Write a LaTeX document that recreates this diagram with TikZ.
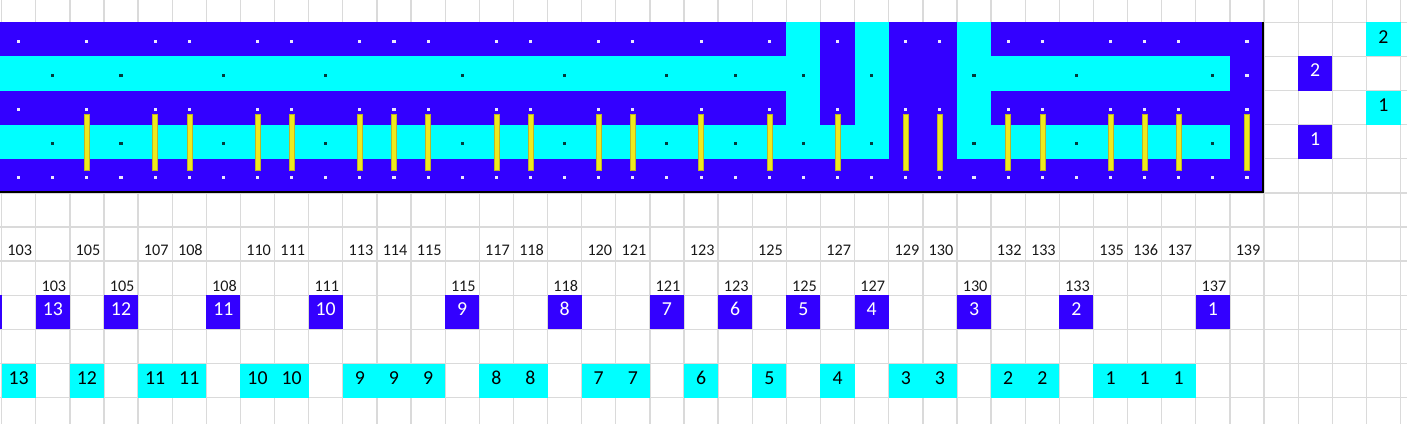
\documentclass[tikz,border=0pt]{standalone}
\usepackage{fontspec}
\setmainfont{Carlito}
\definecolor{xblue}{RGB}{51,0,255}
\definecolor{xcyan}{RGB}{0,255,255}
\definecolor{xyellow}{RGB}{238,234,28}
\definecolor{xyedge}{RGB}{190,180,40}
\definecolor{xgrid}{RGB}{218,218,218}
\definecolor{ldot}{RGB}{235,230,255}
\definecolor{ddot}{RGB}{0,60,60}
\tikzset{
  gridline/.style={xgrid,line width=1.1pt},
  lab/.style={font=\fontsize{13.5}{15}\selectfont,text=black!90,inner sep=0pt,anchor=base east},
  bnum/.style={font=\fontsize{16.5}{18}\selectfont,text=white,inner sep=0pt,anchor=base},
  cnum/.style={font=\fontsize{16.5}{18}\selectfont,text=black,inner sep=0pt,anchor=base},
  ldotst/.style={fill=ldot},
  ddotst/.style={fill=ddot},
  bar/.style={fill=xyellow,draw=xyedge,line width=0.3pt},
}
\def\Sset{0,2,4,5,7,8,10,11,12,14,15,17,18,20,22,24,26,27,29,30,32,33,34,36}
\def\Bars{2,4,5,7,8,10,11,12,14,15,17,18,20,22,24,26,27,29,30,32,33,34,36}
\def\Cset{1,3,6,9,13,16,19,21,23,25,28,31,35}
\begin{document}
\begin{tikzpicture}[x=1cm,y=-1cm]
\def\xo{0.047}
\def\yo{0.654}
\useasboundingbox (0,0) rectangle (41.237,12.427);
% grid
\foreach \i in {0,...,41} \draw[gridline] (\xo+\i,0) -- (\xo+\i,12.427);
\foreach \j in {0,...,11} \draw[gridline] (0,\yo+\j) -- (41.237,\yo+\j);
% main blue block
\fill[xblue] (0,\yo) rectangle (\xo+37,\yo+5);
% cyan comb
\fill[xcyan] (0,\yo+1) rectangle (\xo+24,\yo+2);
\fill[xcyan] (\xo+23,\yo) rectangle (\xo+24,\yo+4);
\fill[xcyan] (\xo+25,\yo) rectangle (\xo+26,\yo+4);
\fill[xcyan] (0,\yo+3) rectangle (\xo+26,\yo+4);
\fill[xcyan] (\xo+28,\yo) rectangle (\xo+29,\yo+4);
\fill[xcyan] (\xo+28,\yo+1) rectangle (\xo+36,\yo+2);
\fill[xcyan] (\xo+28,\yo+3) rectangle (\xo+36,\yo+4);
% dots
\foreach \c in \Sset {
  \fill[ldotst] (\xo+\c+0.455,\yo+0.515) rectangle +(0.09,0.09);
  \fill[ldotst] (\xo+\c+0.455,\yo+2.515) rectangle +(0.09,0.09);
}
\foreach \c in \Cset {
  \fill[ddotst] (\xo+\c+0.455,\yo+1.515) rectangle +(0.09,0.09);
  \fill[ddotst] (\xo+\c+0.455,\yo+3.515) rectangle +(0.09,0.09);
}
\fill[ldotst] (\xo+36.455,\yo+1.515) rectangle +(0.09,0.09);
\foreach \c in {0,...,36}
  \fill[ldotst] (\xo+\c+0.455,\yo+4.515) rectangle +(0.09,0.09);
% yellow bars
\foreach \c in \Bars
  \filldraw[bar] (\xo+\c+0.427,3.341) rectangle (\xo+\c+0.573,4.982);
% black border (bottom and right)
\draw[black,line width=2.2pt] (0,\yo+4.97) -- (\xo+36.97,\yo+4.97) -- (\xo+36.97,\yo);
% label row 6
\foreach \c in \Sset {
  \pgfmathtruncatemacro\v{103+\c}
  \node[lab] (ta\c) at (\xo+\c+0.9,\yo+6.82) {\v};
}
% label row 7 and blue boxes
\foreach \c [count=\k] in \Cset {
  \pgfmathtruncatemacro\v{102+\c}
  \pgfmathtruncatemacro\n{14-\k}
  \node[lab] (tb\c) at (\xo+\c+0.9,\yo+7.88) {\v};
  \fill[xblue] (\xo+\c,\yo+8) rectangle +(1,1);
  \node[bnum] (bb\c) at (\xo+\c+0.5,\yo+8.6) {\n};
}
\fill[xblue] (0,\yo+8) rectangle (\xo,\yo+9);
% cyan boxes row 10
\foreach \c/\n in {0/13,2/12,4/11,5/11,7/10,8/10,10/9,11/9,12/9,14/8,15/8,17/7,18/7,20/6,22/5,24/4,26/3,27/3,29/2,30/2,32/1,33/1,34/1} {
  \fill[xcyan] (\xo+\c,\yo+10) rectangle +(1,1);
  \node[cnum] (cb\c) at (\xo+\c+0.5,\yo+10.62) {\n};
}
% right-hand legend
\fill[xblue] (\xo+38,\yo+1) rectangle +(1,1);
\node[bnum] (lb2) at (\xo+38.5,\yo+1.6) {2};
\fill[xblue] (\xo+38,\yo+3) rectangle +(1,1);
\node[bnum] (lb1) at (\xo+38.5,\yo+3.6) {1};
\fill[xcyan] (\xo+40,\yo) rectangle +(1,1);
\node[cnum] (lc2) at (\xo+40.5,\yo+0.62) {2};
\fill[xcyan] (\xo+40,\yo+2) rectangle +(1,1);
\node[cnum] (lc1) at (\xo+40.5,\yo+2.62) {1};
\end{tikzpicture}
\end{document}
